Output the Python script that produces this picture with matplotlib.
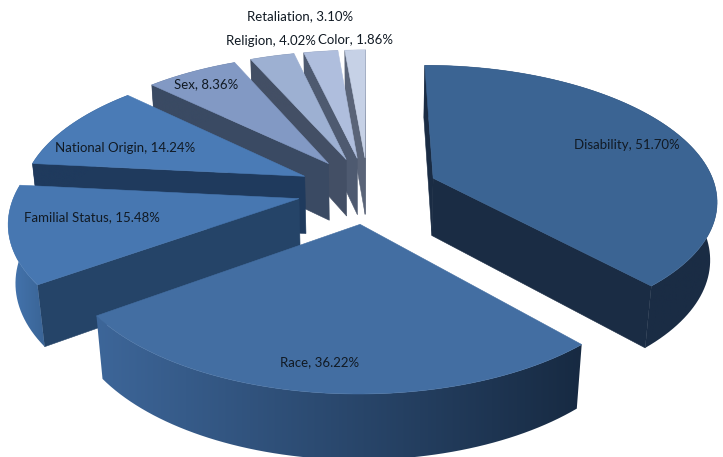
# pie 3D con porciones separadas, dibujado a mano con matplotlib
import numpy as np
import matplotlib
matplotlib.use('Agg')
import matplotlib.pyplot as plt
from matplotlib.colors import to_rgb
from matplotlib.patches import Polygon

# Datos
categorias = ['Disability', 'Race', 'Familial Status', 'National Origin',
              'Sex', 'Religion', 'Retaliation', 'Color']
valores = [51.70, 36.22, 15.48, 14.24, 8.36, 4.02, 3.10, 1.86]

# Colores: cara superior, lado radial, lado exterior (izquierda, derecha)
col_top = ['#3b6493', '#436ea2', '#4777b1', '#4a7bb6', '#8299c4', '#9db0d2', '#afbedd', '#c6d1e6']
col_rad = ['#1a2c44', '#1d3350', '#254468', '#1f3a5d', '#3a4a63', '#434f65', '#4e5a70', '#5a6478']
col_out_a = ['#1a2c44', '#3d6699', '#4576b0', '#1f3a5d', '#3a4a63', '#434f65', '#4e5a70', '#5a6478']
col_out_b = ['#1a2c44', '#172a42', '#3a6496', '#1f3a5d', '#3a4a63', '#434f65', '#4e5a70', '#5a6478']
etiqueta_xy = [(627, 145), (320, 362), (92, 217), (125, 148), (206, 84), (271, 41), (300, 16), (356, 39)]

# Camara
cx, cy = 368, 190
a, b, d = 283, 133, 59
k, m = 0.149, 0.02
explosion = 0.25


def proyectar(u, v, z):
    w = 1 - k * v + m * z
    return cx + a * u / w, cy + (b * v + d * z) / w


def area(p):
    p = np.array(p)
    x, y = p[:, 0], p[:, 1]
    return 0.5 * np.sum(x * np.roll(y, -1) - y * np.roll(x, -1))


fig = plt.figure(figsize=(7.23, 4.57), dpi=100)
ax = fig.add_axes([0, 0, 1, 1])
ax.axis('off')

angulos = np.array(valores) / np.sum(valores) * 2 * np.pi
fin = np.cumsum(angulos)
ini = fin - angulos

zo = 1
# de atras hacia adelante
orden = [7, 6, 5, 4, 3, 0, 2, 1]
for i in orden:
    medio = (ini[i] + fin[i]) / 2
    eu, ev = explosion * np.sin(medio), -explosion * np.cos(medio)
    th = np.linspace(ini[i], fin[i], max(int(np.degrees(angulos[i]) / 1.5), 4))
    u = eu + np.sin(th)
    v = ev - np.cos(th)

    apex_t = proyectar(eu, ev, 0)
    apex_b = proyectar(eu, ev, 1)
    arco_t = [proyectar(x, y, 0) for x, y in zip(u, v)]
    arco_b = [proyectar(x, y, 1) for x, y in zip(u, v)]

    # lados radiales, solo los que miran a la camara
    for cara in ([apex_b, arco_b[0], arco_t[0], apex_t], [apex_t, arco_t[-1], arco_b[-1], apex_b]):
        if area(cara) > 0:
            ax.fill(*zip(*cara), color=col_rad[i], lw=0.4, zorder=zo)
            zo += 1

    # lado exterior con degradado horizontal
    borde = arco_t + arco_b[::-1]
    xs = [p[0] for p in borde]
    ys = [p[1] for p in borde]
    c1, c2 = np.array(to_rgb(col_out_a[i])), np.array(to_rgb(col_out_b[i]))
    grad = np.linspace(c1, c2, 256)[np.newaxis, :, :]
    im = ax.imshow(grad, extent=(min(xs), max(xs), max(ys), min(ys)), aspect='auto', zorder=zo)
    im.set_clip_path(Polygon(borde, transform=ax.transData))
    zo += 1

    # cara superior
    ax.fill(*zip(*([apex_t] + arco_t)), color=col_top[i], lw=0.4, zorder=zo)
    zo += 1

for nombre, valor, (x, y) in zip(categorias, valores, etiqueta_xy):
    ax.text(x, y, f'{nombre}, {valor:.2f}%', ha='center', va='center', fontsize=9.5,
            family='Lato', color='#111a24', zorder=500)

ax.set_xlim(0, 723)
ax.set_ylim(457, 0)
fig.savefig('out.png', dpi=100)
